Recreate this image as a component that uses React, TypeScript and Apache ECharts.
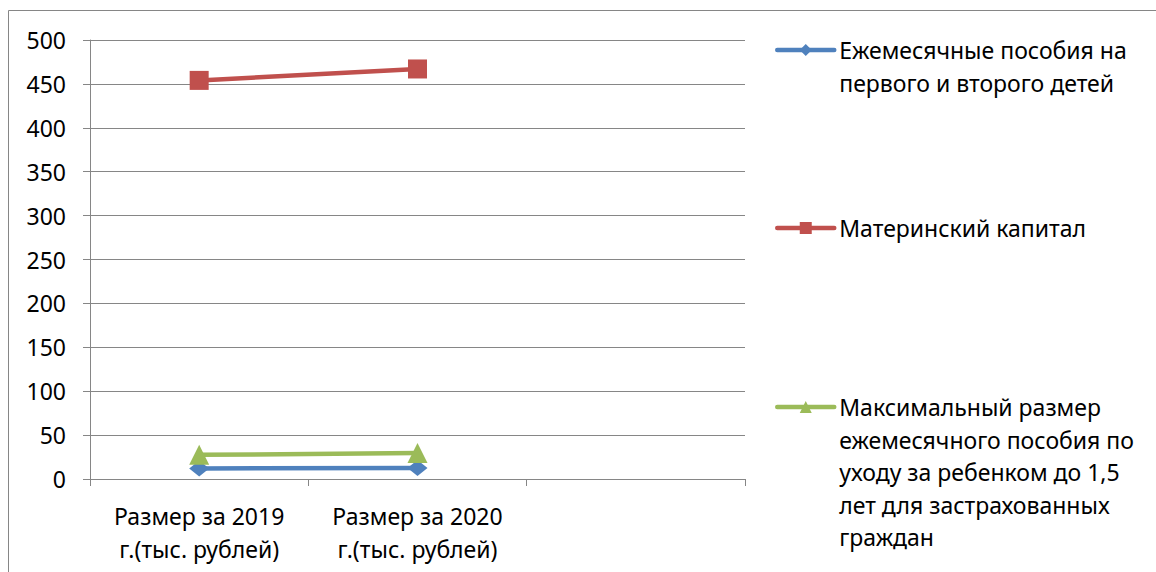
import React, { useEffect, useRef } from "react";
import * as echarts from "echarts";

const categories = ["Размер за 2019\nг.(тыс. рублей)", "Размер за 2020\nг.(тыс. рублей)", ""];
const seriesNames = [
  "Ежемесячные пособия на\nпервого и второго детей",
  "Материнский капитал",
  "Максимальный размер\nежемесячного пособия по\nуходу за ребенком до 1,5\nлет для застрахованных\nграждан",
];
const monthlyBenefit = [12, 12.5];
const maternityCapital = [454, 467];
const childcareMax = [27.5, 29.5];
const yTicks = { min: 0, max: 500, interval: 50 };

const FONT = "'Noto Sans', sans-serif";
const FS = 23;
const LH = 33;
const GRID_COLOR = "#868686";
const colors = ["#4F81BD", "#C0504D", "#9BBB59"];

export default function App() {
  const ref = useRef<HTMLDivElement>(null);
  useEffect(() => {
    if (!ref.current) return;
    const chart = echarts.init(ref.current, null, { renderer: "svg" });
    const lineCounts = seriesNames.map((n) => n.split("\n").length);
    const lineHeights = [33, 33, 32.5];
    const iconCenters = [50, 228, 407];
    const legends = seriesNames.map((name, i) => {
      const n = lineCounts[i];
      const lh = lineHeights[i];
      const H = (2 * n - 1) * lh;
      return {
        orient: "vertical",
        left: 775,
        top: iconCenters[i] - H / 2,
        padding: 0,
        itemWidth: 57,
        itemHeight: 15,
        itemGap: 4,
        data: [name],
        formatter: (nm: string) => "\n".repeat(n - 1) + nm,
        lineStyle: { width: 4.5, cap: "round" },
        textStyle: {
          fontFamily: FONT,
          fontSize: FS,
          lineHeight: lh,
          color: "#000",
        },
      };
    });
    chart.setOption({
      animation: false,
      backgroundColor: "#fff",
      color: colors,
      graphic: [
        {
          type: "rect",
          z: -10,
          shape: { x: 8.5, y: 10.5, width: 1300, height: 700 },
          style: { fill: "none", stroke: GRID_COLOR, lineWidth: 1 },
          silent: true,
        },
      ],
      legend: legends,
      grid: { left: 90, top: 40, width: 655, height: 439, containLabel: false },
      xAxis: {
        type: "category",
        data: categories,
        boundaryGap: true,
        axisLine: { show: true, lineStyle: { color: GRID_COLOR, width: 1 } },
        axisTick: { show: true, length: 7, lineStyle: { color: GRID_COLOR } },
        axisLabel: {
          interval: 0,
          margin: 20,
          fontFamily: FONT,
          fontSize: FS,
          lineHeight: LH,
          color: "#000",
        },
        splitLine: { show: false },
      },
      yAxis: {
        type: "value",
        min: yTicks.min,
        max: yTicks.max,
        interval: yTicks.interval,
        axisLine: { show: true, lineStyle: { color: GRID_COLOR, width: 1 } },
        axisTick: { show: true, length: 7, lineStyle: { color: GRID_COLOR } },
        axisLabel: {
          margin: 24,
          fontFamily: FONT,
          fontSize: FS,
          color: "#000",
        },
        splitLine: { show: true, lineStyle: { color: GRID_COLOR, width: 1 } },
      },
      series: [
        {
          name: seriesNames[0],
          type: "line",
          data: monthlyBenefit,
          symbol: "diamond",
          symbolSize: [20, 16],
          lineStyle: { width: 4.5, color: colors[0] },
          itemStyle: { color: colors[0] },
          z: 2,
        },
        {
          name: seriesNames[1],
          type: "line",
          data: maternityCapital,
          symbol: "rect",
          symbolSize: 19,
          lineStyle: { width: 4.5, color: colors[1] },
          itemStyle: { color: colors[1] },
          z: 3,
        },
        {
          name: seriesNames[2],
          type: "line",
          data: childcareMax,
          symbol: "triangle",
          symbolSize: 20,
          lineStyle: { width: 4.5, color: colors[2] },
          itemStyle: { color: colors[2] },
          z: 4,
        },
      ],
    });
    return () => chart.dispose();
  }, []);
  return (
    <div
      ref={ref}
      style={{ position: "absolute", left: 0, top: 0, width: 1156, height: 572 }}
    />
  );
}
